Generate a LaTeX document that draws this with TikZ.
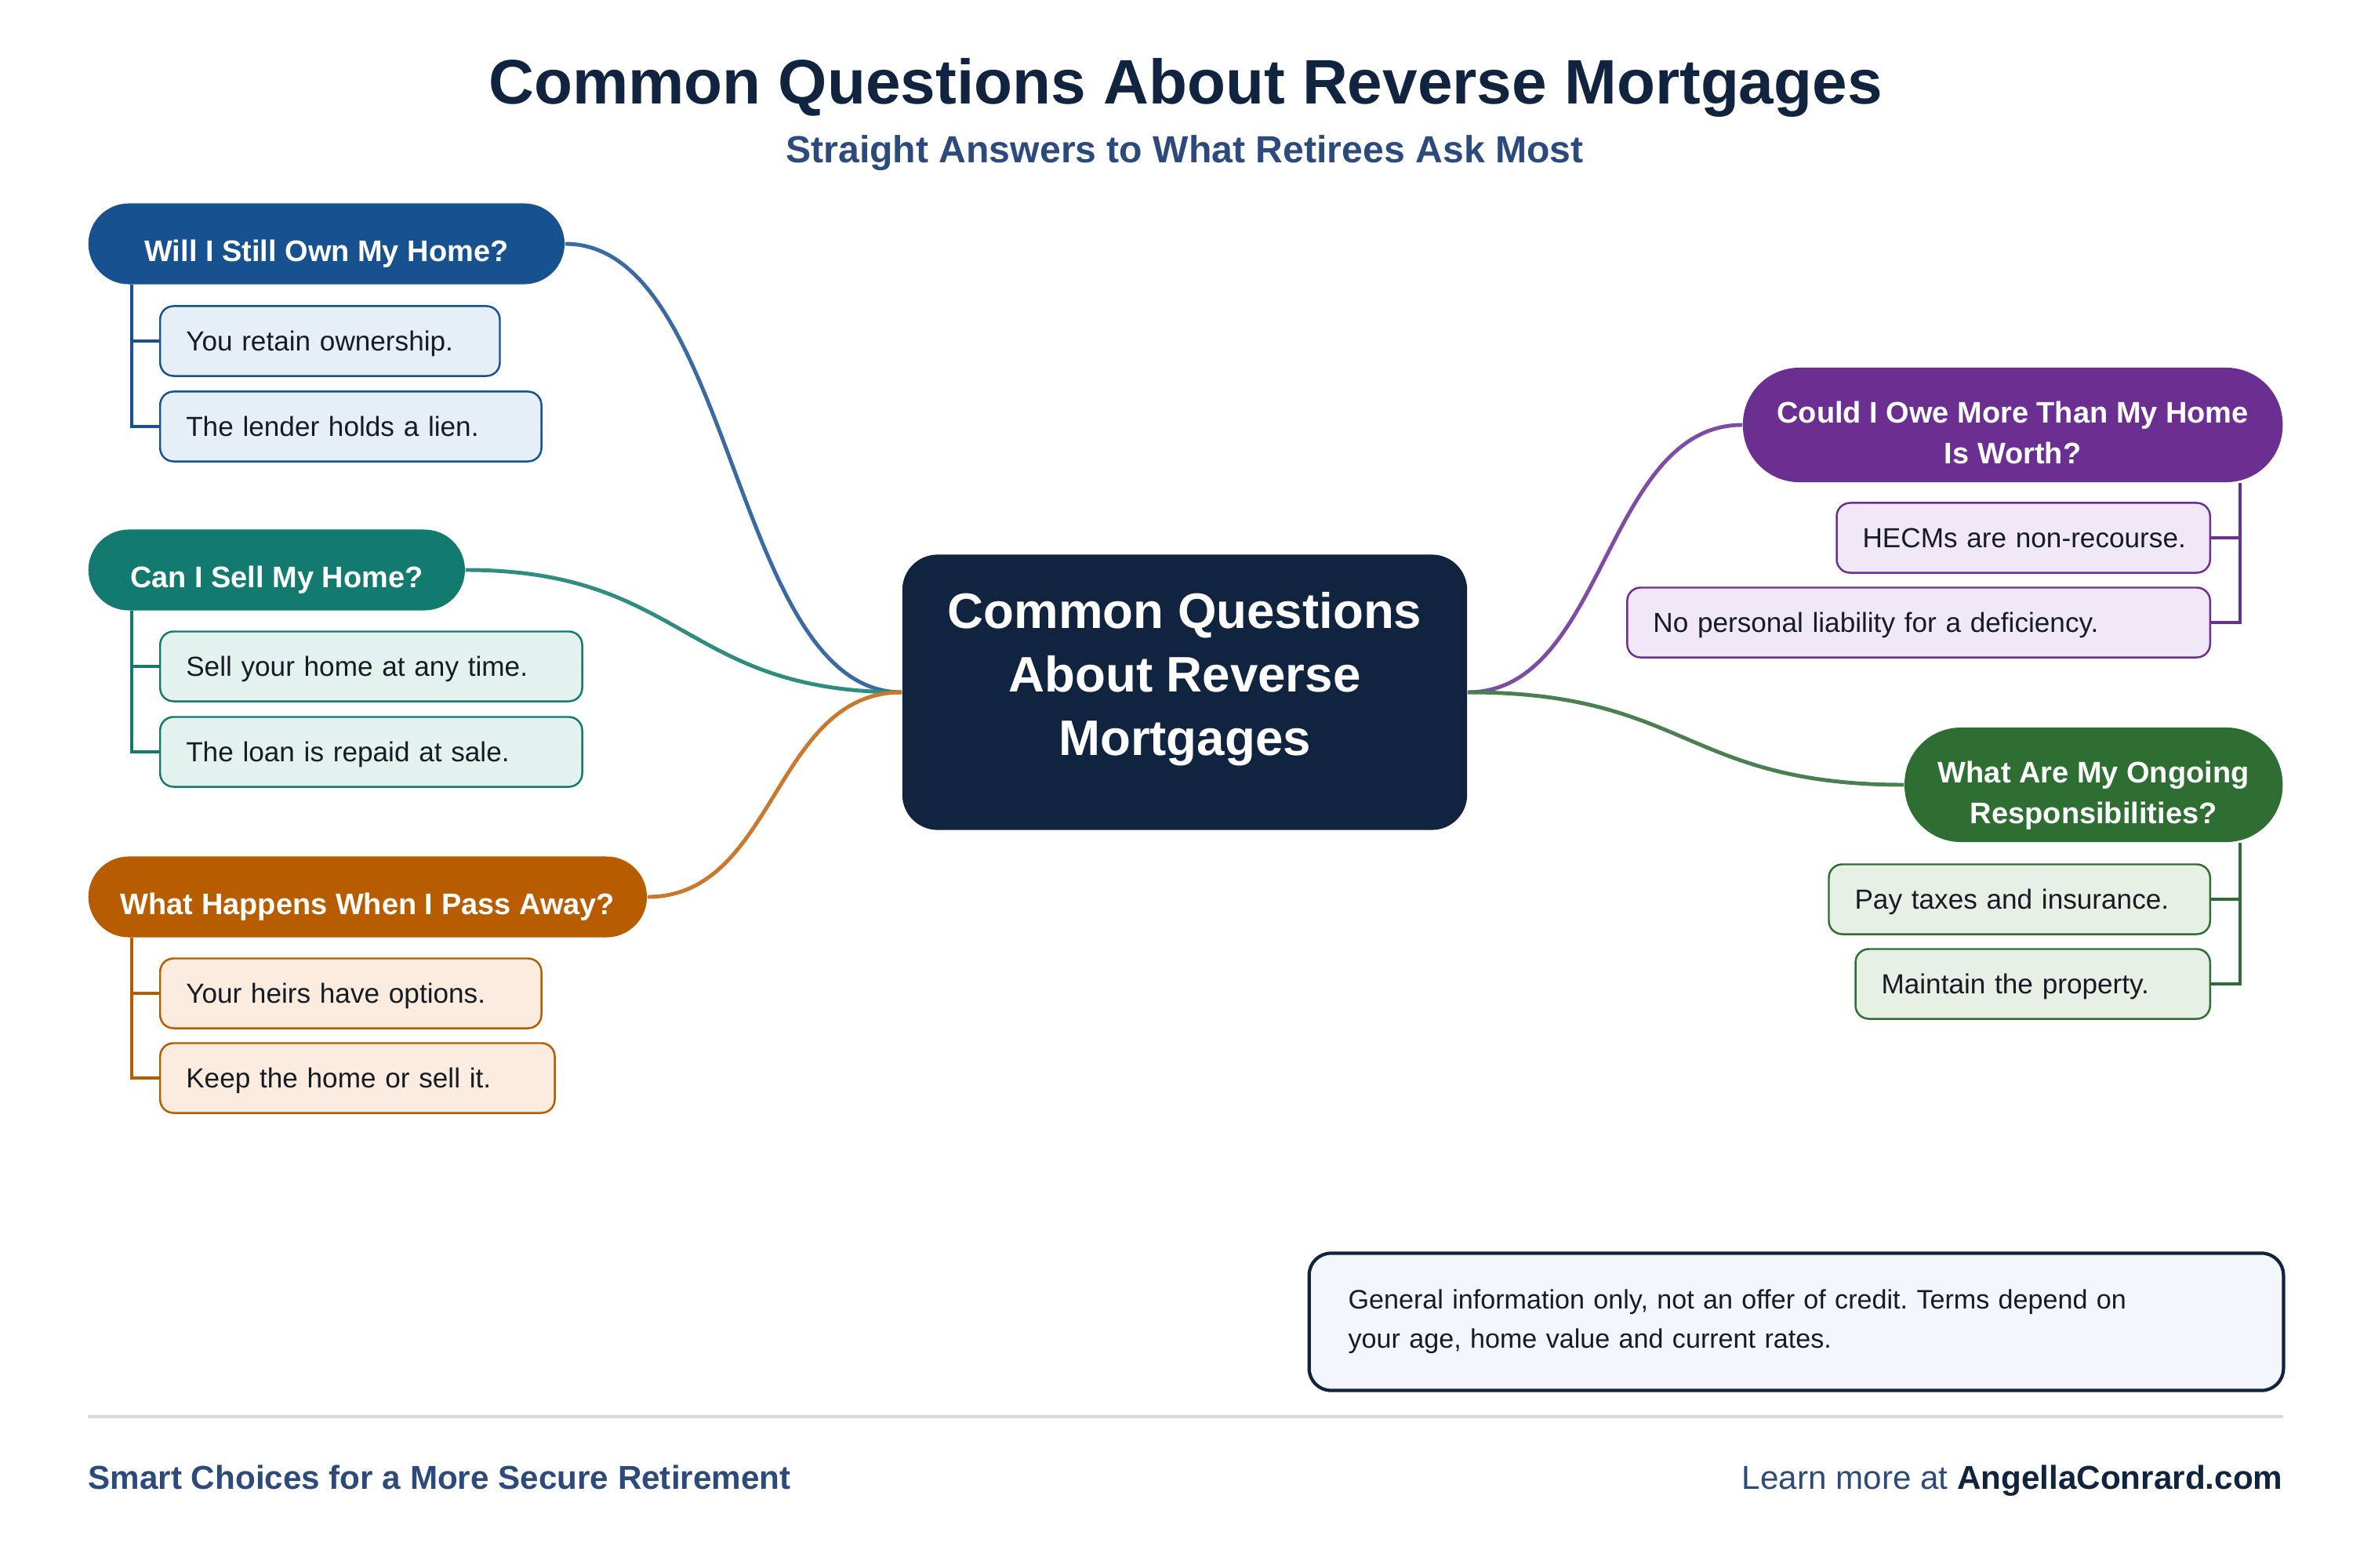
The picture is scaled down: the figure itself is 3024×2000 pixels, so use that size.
\documentclass[tikz,border=0pt]{standalone}
\usepackage{fontspec}
\setmainfont{Liberation Sans}
\usepackage{xcolor}
\usepackage{tikz}
\usetikzlibrary{calc}
\definecolor{navy}{HTML}{10233F}
\definecolor{subtle}{HTML}{2C4A7C}
\definecolor{inkdark}{HTML}{161B24}
\definecolor{rulegray}{HTML}{D5DBE5}
\definecolor{notebg}{HTML}{F3F6FB}
\definecolor{ownblue}{HTML}{17518F}
\definecolor{ownline}{HTML}{3B6AA3}
\definecolor{ownbg}{HTML}{E6EEF8}
\definecolor{sellteal}{HTML}{127A6E}
\definecolor{sellline}{HTML}{2E8C80}
\definecolor{sellbg}{HTML}{E3F2EF}
\definecolor{heirorange}{HTML}{B85C00}
\definecolor{heirline}{HTML}{C9782E}
\definecolor{heirbg}{HTML}{FBECDF}
\definecolor{owepurple}{HTML}{6A2F90}
\definecolor{oweline}{HTML}{7E4BA5}
\definecolor{owebg}{HTML}{F0E8F6}
\definecolor{dutygreen}{HTML}{2E6E32}
\definecolor{dutyline}{HTML}{4A8051}
\definecolor{dutybg}{HTML}{E6F0E4}
\newcommand{\fsz}[2]{\fontsize{#1}{#2}\selectfont}
\tikzset{
  hub/.style={fill=navy, text=white, rounded corners=0.45cm,
              minimum width=7.2cm, minimum height=3.51cm, align=center,
              text height=49.4pt, font=\bfseries\fsz{18.1pt}{23pt}},
  question/.style={fill=#1, text=white, rounded corners=0.515cm,
              minimum height=1.03cm, inner xsep=0.2cm, align=center,
              text height=15.1pt, text depth=2.3pt,
              font=\bfseries\fsz{10.8pt}{14.8pt}},
  tallquestion/.style={question=#1, minimum height=1.46cm,
              rounded corners=0.72cm, text height=30.3pt, text depth=2.3pt},
  answer/.style 2 args={draw=#1, fill=#2, line width=0.7pt,
              rounded corners=0.17cm, minimum height=0.89cm,
              inner xsep=0.33cm, align=left, text=inkdark,
              text height=9.5pt, text depth=2.2pt,
              font=\fsz{10pt}{12pt}},
  branch/.style={draw=#1, line width=1.4pt},
  stem/.style={draw=#1, line width=0.9pt},
  note/.style={draw=navy, fill=notebg, line width=1.2pt,
              rounded corners=0.28cm, minimum width=12.42cm,
              minimum height=1.75cm, inner xsep=0.5cm, text width=11.42cm,
              align=left, text=inkdark, font=\fsz{9.7pt}{14.2pt}}
}
\begin{document}
\frenchspacing
\begin{tikzpicture}[x=0.01cm, y=-0.01cm]
  \fill[white] (0,0) rectangle (3024,2000);

  \node[anchor=base, text=navy, font=\bfseries\fsz{22.8pt}{27pt}] (title)
    at (1512,133) {Common Questions About Reverse Mortgages};
  \node[anchor=base, text=subtle, font=\bfseries\fsz{13.7pt}{16pt}] (subtitle)
    at (1511,208) {Straight Answers to What Retirees Ask Most};

  \node[hub] (hub) at (1511,883) {Common Questions\\About Reverse\\Mortgages};

  \node[question=ownblue, anchor=west, minimum width=6.07cm] (q1)
    at (112,311) {Will I Still Own My Home?};
  \node[answer={ownblue}{ownbg}, anchor=west, text width=3.67cm] (a11)
    at (203,435) {You retain ownership.};
  \node[answer={ownblue}{ownbg}, anchor=west, text width=4.20cm] (a12)
    at (203,544) {The lender holds a lien.};

  \node[question=sellteal, anchor=west, minimum width=4.80cm] (q2)
    at (112,727) {Can I Sell My Home?};
  \node[answer={sellteal}{sellbg}, anchor=west, text width=4.72cm] (a21)
    at (203,850) {Sell your home at any time.};
  \node[answer={sellteal}{sellbg}, anchor=west, text width=4.72cm] (a22)
    at (203,959) {The loan is repaid at sale.};

  \node[question=heirorange, anchor=west, minimum width=7.12cm] (q3)
    at (112,1144) {What Happens When I Pass Away?};
  \node[answer={heirorange}{heirbg}, anchor=west, text width=4.20cm] (a31)
    at (203,1267) {Your heirs have options.};
  \node[answer={heirorange}{heirbg}, anchor=west, text width=4.37cm] (a32)
    at (203,1375) {Keep the home or sell it.};

  \node[tallquestion=owepurple, anchor=east, minimum width=6.88cm] (q4)
    at (2912,542) {Could I Owe More Than My Home\\Is Worth?};
  \node[answer={owepurple}{owebg}, anchor=east, text width=4.10cm] (a41)
    at (2820,686) {\mbox{HECMs are non-recourse.}};
  \node[answer={owepurple}{owebg}, anchor=east, text width=6.77cm] (a42)
    at (2820,794) {No personal liability for a deficiency.};

  \node[tallquestion=dutygreen, anchor=east, minimum width=4.82cm] (q5)
    at (2912,1001) {What Are My Ongoing\\Responsibilities?};
  \node[answer={dutygreen}{dutybg}, anchor=east, text width=4.20cm] (a51)
    at (2820,1147) {Pay taxes and insurance.};
  \node[answer={dutygreen}{dutybg}, anchor=east, text width=3.86cm] (a52)
    at (2820,1255) {Maintain the property.};

  \draw[branch=ownline] (q1.east) .. controls +(216,0) and +(-216,0) .. (hub.west);
  \draw[branch=sellline] (q2.east) .. controls +(280,0) and +(-280,0) .. (hub.west);
  \draw[branch=heirline] (q3.east) .. controls +(164,0) and +(-164,0) .. (hub.west);
  \draw[branch=oweline] (hub.east) .. controls +(176,0) and +(-176,0) .. (q4.west);
  \draw[branch=dutyline] (hub.east) .. controls +(280,0) and +(-280,0) .. (q5.west);

  \draw[stem=ownblue] ([xshift=-0.35cm]a11.west |- q1.south) |- (a11.west)
    ([xshift=-0.35cm]a11.west |- q1.south) |- (a12.west);
  \draw[stem=sellteal] ([xshift=-0.35cm]a21.west |- q2.south) |- (a21.west)
    ([xshift=-0.35cm]a21.west |- q2.south) |- (a22.west);
  \draw[stem=heirorange] ([xshift=-0.35cm]a31.west |- q3.south) |- (a31.west)
    ([xshift=-0.35cm]a31.west |- q3.south) |- (a32.west);
  \draw[stem=owepurple] ([xshift=0.37cm]a41.east |- q4.south) |- (a41.east)
    ([xshift=0.37cm]a41.east |- q4.south) |- (a42.east);
  \draw[stem=dutygreen] ([xshift=0.37cm]a51.east |- q5.south) |- (a51.east)
    ([xshift=0.37cm]a51.east |- q5.south) |- (a52.east);

  \node[note] (disclaimer) at (2291,1686) {General information only, not an offer of credit. Terms depend on\\your age, home value and current rates.};

  \draw[rulegray, line width=1.1pt] (112,1807) -- (2912,1807);

  \node[anchor=base west, inner sep=0pt, text=subtle,
        font=\bfseries\fsz{12pt}{14pt}] (tagline)
    at (112,1899) {Smart Choices for a More Secure Retirement};
  \node[anchor=base east, inner sep=0pt, text=subtle,
        font=\fsz{12pt}{14pt}] (website)
    at (2912,1899) {Learn more at \textcolor{navy}{\bfseries AngellaConrard.com}};
\end{tikzpicture}
\end{document}
